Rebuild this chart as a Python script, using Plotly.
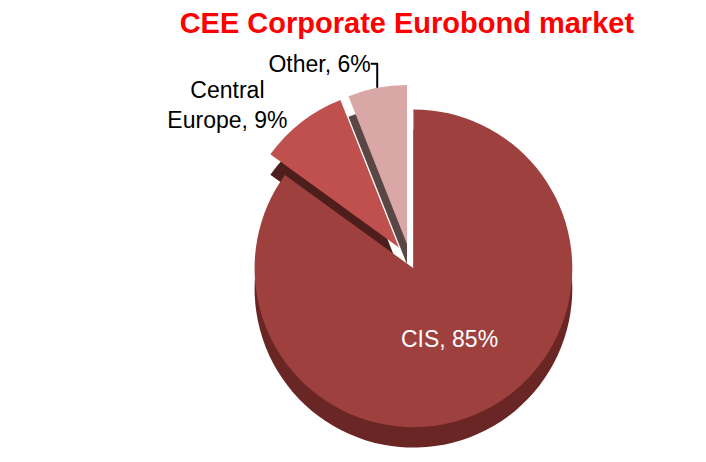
import plotly.graph_objects as go

labels = ["CIS", "Central Europe", "Other"]
label_text = ["CIS", "Central<br>Europe", "Other"]
values = [85, 9, 6]
top_colors = ["#9E403D", "#C0504D", "#D9A7A6"]
side_colors = ["#6A2624", "#4E1E1C", "#5A4644"]
pulls = [0.04, 0.12, 0.12]
text_pos = ["inside", "outside", "outside"]

fig = go.Figure()

# side (depth) layer
fig.add_trace(go.Pie(
    labels=labels, values=values, sort=False, direction="clockwise", rotation=0,
    pull=pulls, marker=dict(colors=side_colors, line=dict(width=0)),
    textinfo="none", hoverinfo="skip", showlegend=False,
    domain=dict(x=[0.28, 1.0], y=[0.0, 0.87]),
))

# top layer
fig.add_trace(go.Pie(
    labels=labels, values=values, sort=False, direction="clockwise", rotation=0,
    pull=pulls, marker=dict(colors=top_colors, line=dict(width=0)),
    text=label_text, texttemplate="%{text}, %{value}%", textposition=text_pos,
    insidetextfont=dict(color="white", size=23, family="Liberation Sans, Arial"),
    outsidetextfont=dict(color="black", size=23, family="Liberation Sans, Arial"),
    insidetextorientation="horizontal",
    showlegend=False,
    domain=dict(x=[0.28, 1.0], y=[0.05, 0.92]),
))

fig.update_layout(
    width=706, height=462,
    margin=dict(l=0, r=0, t=44, b=0),
    paper_bgcolor="white",
    title=dict(text="<b>CEE Corporate Eurobond market</b>", x=0.565, xanchor="center",
               y=0.99, yanchor="top",
               font=dict(color="#FF0000", size=29, family="Liberation Sans, Arial")),
)

fig.write_html("out.html")
